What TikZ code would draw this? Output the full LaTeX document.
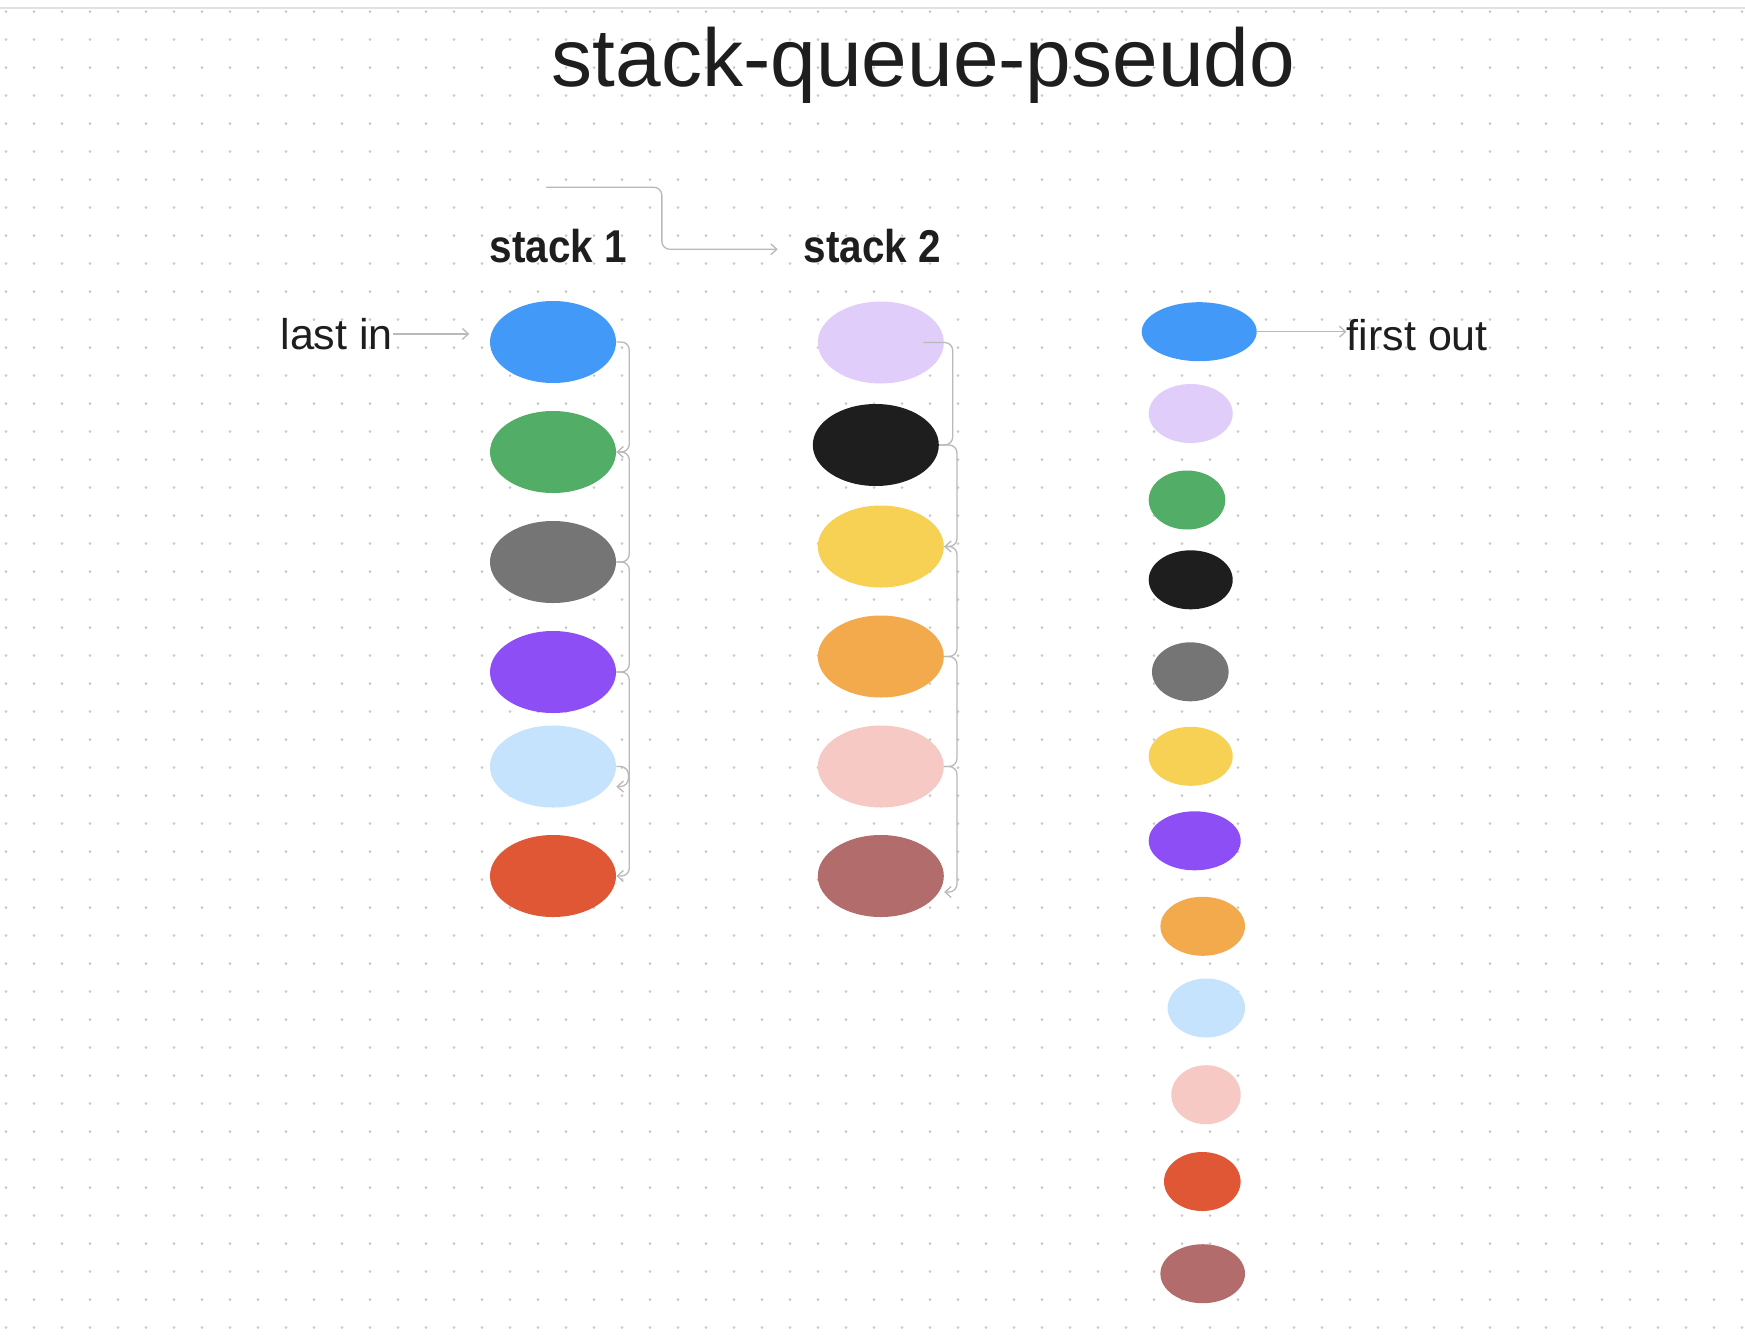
\documentclass[tikz,border=0pt]{standalone}
\usepackage{fontspec}
\setmainfont{Liberation Sans}
\newfontfamily\stackfont[FakeStretch=0.88]{Liberation Sans}
\definecolor{SQText}{RGB}{30,30,30}
\definecolor{SQDot}{RGB}{200,200,200}
\definecolor{SQRule}{RGB}{225,225,225}
\definecolor{SQLink}{RGB}{185,185,185}
\definecolor{SQBlue}{RGB}{67,153,247}
\definecolor{SQGreen}{RGB}{82,173,103}
\definecolor{SQGray}{RGB}{117,117,117}
\definecolor{SQPurple}{RGB}{141,78,245}
\definecolor{SQSky}{RGB}{197,227,252}
\definecolor{SQRed}{RGB}{224,87,53}
\definecolor{SQLavender}{RGB}{224,205,250}
\definecolor{SQBlack}{RGB}{30,30,30}
\definecolor{SQYellow}{RGB}{247,209,84}
\definecolor{SQOrange}{RGB}{242,170,76}
\definecolor{SQPink}{RGB}{246,201,197}
\definecolor{SQBrown}{RGB}{177,108,107}
\usetikzlibrary{shapes.geometric, arrows.meta, calc}

\begin{document}
\begin{tikzpicture}[
                x=0.5pt, y=-0.5pt,
                ball/.style={ellipse, inner sep=0pt, minimum width=63pt, minimum height=41pt},
                qball/.style={ellipse, inner sep=0pt, minimum height=29.5pt},
                headline/.style={inner sep=0pt, anchor=base, text=SQText, font=\fontsize{41}{49}\selectfont},
                stackname/.style={inner sep=0pt, anchor=base, text=SQText, font=\stackfont\bfseries\fontsize{23}{28}\selectfont},
                note/.style={inner sep=0pt, anchor=base, text=SQText, font=\fontsize{21.5}{26}\selectfont},
                link/.style={draw=SQLink, line width=0.65pt, rounded corners=4pt},
                arrowlink/.style={link, -{Straight Barb[length=3pt,width=5.5pt]}}
            ]
                \fill[white] (0,0) rectangle (1745,1339);
                \useasboundingbox (0,0) rectangle (1745,1339);

                % dotted canvas
                \foreach \i in {0,...,62}
                    \foreach \j in {0,...,47}
                        \fill[SQDot] (6+28*\i,11.7+28*\j) circle (0.75pt);
                \draw[SQRule, line width=1pt] (0,7.8) -- (1745,7.8);

                \node (title) [headline] at (923.5,86) {stack-queue-pseudo};
                \node (s1label) [stackname] at (558.3,262) {stack 1};
                \node (s2label) [stackname] at (872.5,262) {stack 2};
                \node (lastin) [note] at (336.7,349.3) {last in};
                \node (firstout) [note] at (1417.3,350) {first out};

                % stack 1
                \node (s1a) [ball, fill=SQBlue] at (553,342) {};
                \node (s1b) [ball, fill=SQGreen] at (553,452) {};
                \node (s1c) [ball, fill=SQGray] at (553,562) {};
                \node (s1d) [ball, fill=SQPurple] at (553,672) {};
                \node (s1e) [ball, fill=SQSky] at (553,766.5) {};
                \node (s1f) [ball, fill=SQRed] at (553,876) {};

                % stack 2
                \node (s2a) [ball, fill=SQLavender] at (880.8,342.5) {};
                \node (s2b) [ball, fill=SQBlack] at (875.8,445) {};
                \node (s2c) [ball, fill=SQYellow] at (880.8,546.5) {};
                \node (s2d) [ball, fill=SQOrange] at (880.8,656.5) {};
                \node (s2e) [ball, fill=SQPink] at (880.8,766.5) {};
                \node (s2f) [ball, fill=SQBrown] at (880.8,876) {};

                % queue
                \node (q1) [qball, fill=SQBlue, minimum width=57.5pt] at (1199.2,331.7) {};
                \node (q2) [qball, fill=SQLavender, minimum width=42pt] at (1190.7,413.5) {};
                \node (q3) [qball, fill=SQGreen, minimum width=38.3pt] at (1187,500) {};
                \node (q4) [qball, fill=SQBlack, minimum width=42pt] at (1190.7,579.8) {};
                \node (q5) [qball, fill=SQGray, minimum width=38.3pt] at (1190.3,671.8) {};
                \node (q6) [qball, fill=SQYellow, minimum width=42pt] at (1190.7,756.3) {};
                \node (q7) [qball, fill=SQPurple, minimum width=46pt] at (1194.7,840.8) {};
                \node (q8) [qball, fill=SQOrange, minimum width=42.3pt] at (1202.7,926.3) {};
                \node (q9) [qball, fill=SQSky, minimum width=38.7pt] at (1206.3,1008) {};
                \node (q10) [qball, fill=SQPink, minimum width=34.7pt] at (1206,1094.7) {};
                \node (q11) [qball, fill=SQRed, minimum width=38.3pt] at (1202.3,1181.5) {};
                \node (q12) [qball, fill=SQBrown, minimum width=42.3pt] at (1202.7,1273.7) {};

                \coordinate (rail1) at (629.3,0);
                \coordinate (rail2a) at (952.7,0);
                \coordinate (rail2) at (957,0);
                \coordinate (moveA) at (546,187.3);
                \coordinate (moveB) at (777.7,249.3);
                \coordinate (inend) at (469.3,333.3);

                \draw [arrowlink] (moveA) -| ($(moveA)!0.5!(moveB)$) |- (moveB);
                \draw [arrowlink] (lastin.east) -- (lastin.east -| inend);
                \draw [arrowlink] (q1.east) -- (firstout.west |- q1.east);

                \draw [arrowlink] (s1a.east) -- (s1a.east -| rail1) -- (s1b.east -| rail1) -- (s1b.east);
                \draw [link] (s1b.east) -- (s1b.east -| rail1) -- (s1c.east -| rail1) -- (s1c.east);
                \draw [link] (s1c.east) -- (s1c.east -| rail1) -- (s1d.east -| rail1) -- (s1d.east);
                \draw [arrowlink] (s1d.east) -- (s1d.east -| rail1) -- (s1f.east -| rail1) -- (s1f.east);
                \draw [arrowlink] (s1e.east) -- ++(12,0) -- ++(0,20) -- ++(-12,0);

                \draw [link] ([xshift=21.25pt]s2a.center) -- (s2a.center -| rail2a) -- (s2b.east -| rail2a) -- (s2b.east);
                \draw [arrowlink] (s2b.east) -- (s2b.east -| rail2) -- (s2c.east -| rail2) -- (s2c.east);
                \draw [link] (s2c.east) -- (s2c.east -| rail2) -- (s2d.east -| rail2) -- (s2d.east);
                \draw [link] (s2d.east) -- (s2d.east -| rail2) -- (s2e.east -| rail2) -- (s2e.east);
                \draw [arrowlink] (s2e.east) -- (s2e.east -| rail2) -- ([yshift=-8pt]s2f.east -| rail2) -- ([yshift=-8pt]s2f.east);
            \end{tikzpicture}
\end{document}
